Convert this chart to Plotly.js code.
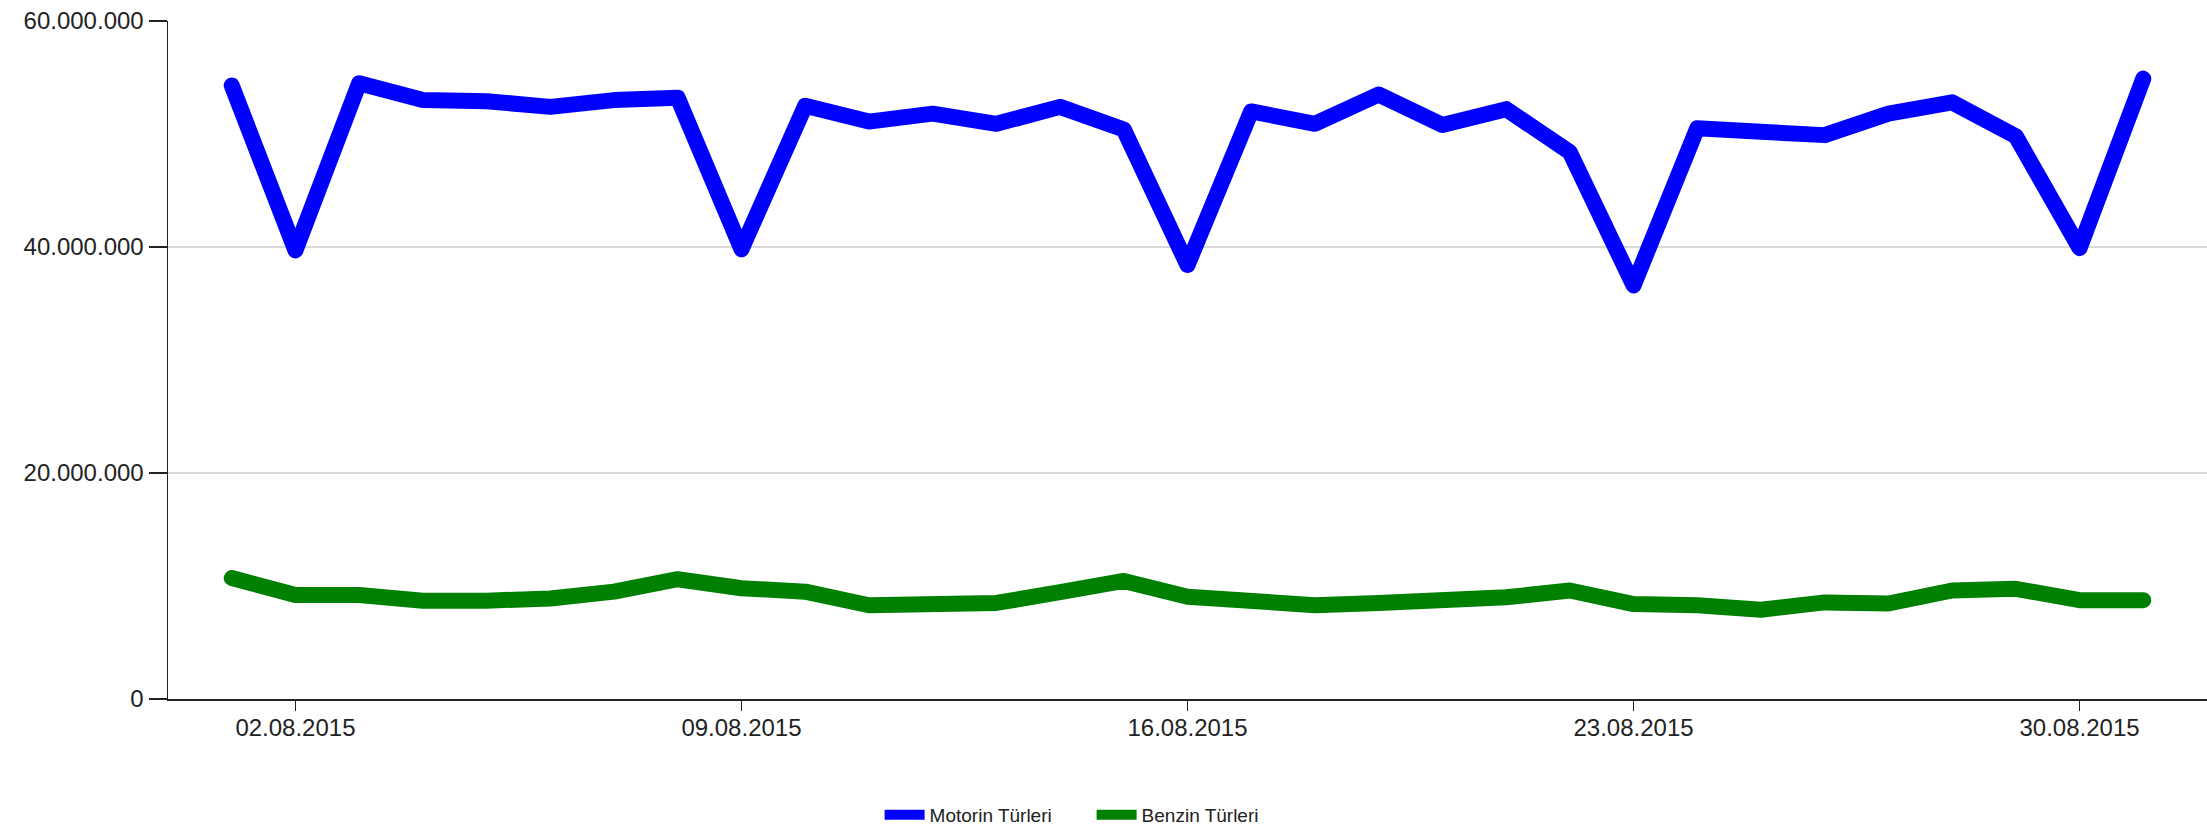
<!DOCTYPE html>
<html>
<head>
<meta charset="utf-8">
<script src="https://cdn.plot.ly/plotly-3.0.1.min.js"></script>
<style>
  html, body { margin: 0; padding: 0; background: #ffffff; }
  #chart { width: 2207px; height: 834px; }
  .scatterlayer .js-line { stroke-linejoin: round !important; stroke-linecap: round !important; }
</style>
</head>
<body>
<div id="chart"></div>
<script>
const dates = [
  '2015-08-01','2015-08-02','2015-08-03','2015-08-04','2015-08-05','2015-08-06','2015-08-07',
  '2015-08-08','2015-08-09','2015-08-10','2015-08-11','2015-08-12','2015-08-13','2015-08-14',
  '2015-08-15','2015-08-16','2015-08-17','2015-08-18','2015-08-19','2015-08-20','2015-08-21',
  '2015-08-22','2015-08-23','2015-08-24','2015-08-25','2015-08-26','2015-08-27','2015-08-28',
  '2015-08-29','2015-08-30','2015-08-31'
];

const motorin = [
  54300000, 39700000, 54500000, 53000000, 52900000, 52400000, 53000000,
  53200000, 39800000, 52500000, 51100000, 51800000, 50900000, 52400000,
  50400000, 38400000, 52000000, 50900000, 53500000, 50800000, 52200000,
  48400000, 36600000, 50500000, 50200000, 49900000, 51800000, 52800000,
  49800000, 39900000, 54900000
];

const benzin = [
  10700000, 9200000, 9200000, 8700000, 8700000, 8900000, 9500000,
  10600000, 9800000, 9500000, 8300000, 8450000, 8500000, 9450000,
  10450000, 9050000, 8850000, 8300000, 8500000, 8600000, 9000000,
  9600000, 8400000, 8300000, 7900000, 8550000, 8450000, 9600000,
  9750000, 8750000, 8750000
];

const seriesNames = ['Motorin Türleri', 'Benzin Türleri'];
const tickDates = ['2015-08-02', '2015-08-09', '2015-08-16', '2015-08-23', '2015-08-30'];
const tickLabels = ['02.08.2015', '09.08.2015', '16.08.2015', '23.08.2015', '30.08.2015'];
const yTicks = [0, 20000000, 40000000, 60000000];

const FONT = '"Liberation Sans", Arial, sans-serif';

const traces = [
  {
    x: dates, y: motorin, name: seriesNames[0], type: 'scatter', mode: 'lines',
    line: { color: '#0000ff', width: 16 }
  },
  {
    x: dates, y: benzin, name: seriesNames[1], type: 'scatter', mode: 'lines',
    line: { color: '#008000', width: 16 }
  }
];

const layout = {
  width: 2207,
  height: 834,
  margin: { l: 168, r: 0, t: 21, b: 135 },
  paper_bgcolor: '#ffffff',
  plot_bgcolor: '#ffffff',
  separators: ',.',
  font: { family: FONT, color: '#222222', size: 24 },
  showlegend: true,
  legend: {
    orientation: 'h',
    x: 0.349, xanchor: 'left',
    y: -0.171, yanchor: 'middle',
    font: { family: FONT, size: 19, color: '#222222' },
    itemwidth: 40,
    entrywidth: 157,
    bgcolor: 'rgba(0,0,0,0)'
  },
  xaxis: {
    type: 'date',
    range: ['2015-07-31', '2015-09-01'],
    tickmode: 'array',
    tickvals: tickDates,
    ticktext: tickLabels,
    ticks: 'outside',
    ticklen: 10,
    tickwidth: 1.5,
    tickcolor: '#222222',
    ticklabelstandoff: -3,
    showline: true,
    linecolor: '#222222',
    linewidth: 1.5,
    showgrid: false,
    zeroline: false,
    tickfont: { family: FONT, size: 24, color: '#222222' },
    fixedrange: true
  },
  yaxis: {
    range: [0, 60000000],
    tickmode: 'array',
    tickvals: yTicks,
    tickformat: ',d',
    ticks: 'outside',
    ticklen: 18,
    tickwidth: 1.5,
    tickcolor: '#222222',
    showline: true,
    linecolor: '#222222',
    linewidth: 1.5,
    showgrid: true,
    gridcolor: '#d9d9d9',
    gridwidth: 1.5,
    zeroline: false,
    tickfont: { family: FONT, size: 24, color: '#222222' },
    fixedrange: true
  }
};

Plotly.newPlot('chart', traces, layout, { displayModeBar: false, staticPlot: true });
</script>
</body>
</html>
